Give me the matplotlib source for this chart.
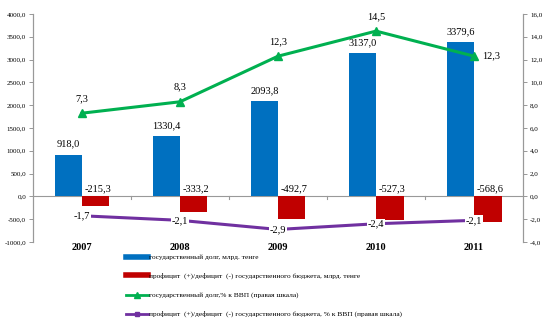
import matplotlib.pyplot as plt
import numpy as np
from matplotlib.lines import Line2D

plt.rcParams['font.family'] = ['Liberation Serif', 'DejaVu Serif']

years = ['2007', '2008', '2009', '2010', '2011']
debt = [918.0, 1330.4, 2093.8, 3137.0, 3379.6]          # госдолг, млрд. тенге
balance = [-215.3, -333.2, -492.7, -527.3, -568.6]     # профицит/дефицит, млрд. тенге
debt_pct = [7.3, 8.3, 12.3, 14.5, 12.3]                # госдолг, % к ВВП
balance_pct = [-1.7, -2.1, -2.9, -2.4, -2.1]           # профицит/дефицит, % к ВВП

blue = '#0070C0'
red = '#C00000'
green = '#00B050'
purple = '#7030A0'

def fmt(v):
    return ('%.1f' % v).replace('.', ',')

fig = plt.figure(figsize=(5.47, 3.31), dpi=100)
ax = fig.add_axes([0.0603, 0.2689, 0.896, 0.6888])
ax2 = ax.twinx()

x = np.arange(len(years))
w = 0.28
ax.bar(x - w / 2, debt, w, color=blue, zorder=2)
ax.bar(x + w / 2, balance, w, color=red, zorder=2)

for i in range(len(x)):
    ax.text(x[i] - w / 2, debt[i] + 130, fmt(debt[i]), ha='center', va='bottom', fontsize=7.5)
    ax.text(x[i] + w / 2 + 0.02, 60, fmt(balance[i]), ha='center', va='bottom', fontsize=7.5)

ax.set_xlim(-0.5, 4.5)
ax.set_ylim(-1000, 4000)
ax.set_yticks(np.arange(-1000, 4001, 500))
ax.set_yticklabels([fmt(v) for v in np.arange(-1000, 4001, 500)], fontsize=5)
ax.set_xticks(x)
ax.set_xticklabels(years, fontsize=7.5, fontweight='bold')
ax.tick_params(axis='x', length=0, pad=1)
ax.tick_params(axis='y', length=3, width=0.6, color='#888888', pad=2)
ax.axhline(0, color='#999999', lw=0.8, zorder=1)
for b in np.arange(0.5, 4.5, 1):
    ax.plot([b, b], [0, -50], color='#999999', lw=0.8, zorder=1)

# right scale
ax2.set_ylim(-4, 16)
ax2.set_yticks(np.arange(-4, 17, 2))
ax2.set_yticklabels([fmt(v) for v in np.arange(-4, 17, 2)], fontsize=5)
ax2.tick_params(axis='y', length=3, width=0.6, color='#888888', pad=2)
ax2.plot(x, debt_pct, color=green, lw=2.2, marker='^', ms=6, zorder=3)
ax2.plot(x, balance_pct, color=purple, lw=2.2, marker='s', ms=4, zorder=3)

for i in range(len(x)):
    if i == 4:
        ax2.text(x[i] + 0.17, debt_pct[i], fmt(debt_pct[i]), ha='center', va='center', fontsize=7.5)
    else:
        ax2.text(x[i], debt_pct[i] + 0.9, fmt(debt_pct[i]), ha='center', va='bottom', fontsize=7.5)
    ax2.text(x[i], balance_pct[i], fmt(balance_pct[i]), ha='center', va='center', fontsize=7.5,
             zorder=4, bbox=dict(facecolor='white', edgecolor='none', pad=0.5))

for a in (ax, ax2):
    a.spines['top'].set_visible(False)
    a.spines['bottom'].set_visible(False)
    a.spines['left'].set_color('#999999')
    a.spines['right'].set_color('#999999')
    a.spines['left'].set_linewidth(0.8)
    a.spines['right'].set_linewidth(0.8)

handles = [
    Line2D([], [], color=blue, lw=4),
    Line2D([], [], color=red, lw=4),
    Line2D([], [], color=green, lw=2, marker='^', ms=4),
    Line2D([], [], color=purple, lw=2, marker='s', ms=3),
]
labels = [
    'государственный долг, млрд. тенге',
    'профицит  (+)/дефицит  (-) государственного бюджета, млрд. тенге',
    'государственный долг,% к ВВП (правая шкала)',
    'профицит  (+)/дефицит  (-) государственного бюджета, % к ВВП (правая шкала)',
]
fig.legend(handles, labels, loc='upper left', bbox_to_anchor=(0.224, 0.243), frameon=False,
           fontsize=5.3, handlelength=3.0, handletextpad=0.1, labelspacing=1.7, borderpad=0)

fig.savefig('out.png', dpi=100)
